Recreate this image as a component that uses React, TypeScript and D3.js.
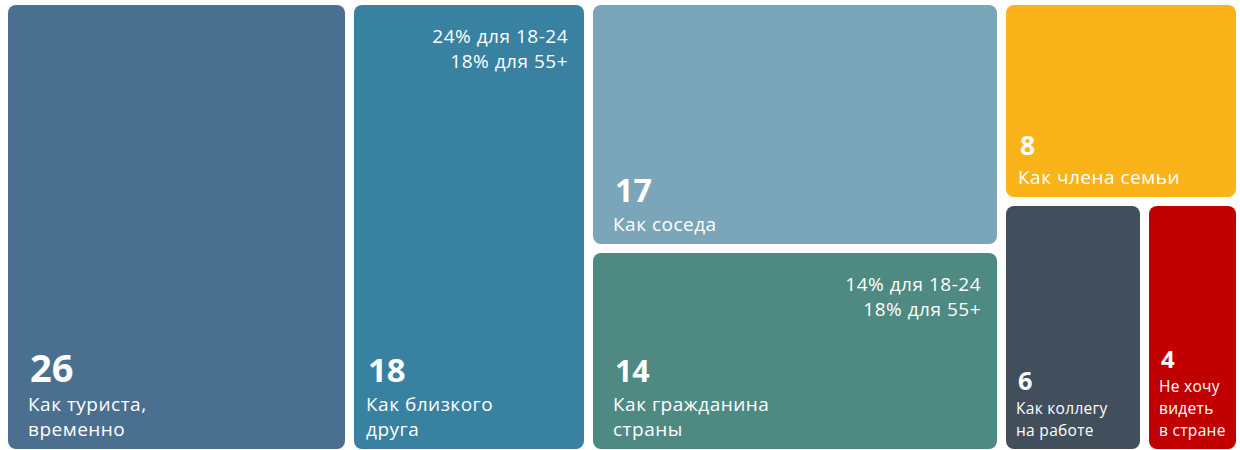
import React from "react";
import * as d3 from "d3";

const categories: string[][] = [
  ["Как туриста,", "временно"],
  ["Как близкого", "друга"],
  ["Как соседа"],
  ["Как гражданина", "страны"],
  ["Как члена семьи"],
  ["Как коллегу", "на работе"],
  ["Не хочу", "видеть", "в стране"],
];
const values: number[] = [26, 18, 17, 14, 8, 6, 4];
const notes: string[][] = [
  [],
  ["24% для 18-24", "18% для 55+"],
  [],
  ["14% для 18-24", "18% для 55+"],
  [],
  [],
  [],
];
const colors: string[] = ["#4a6f8f", "#3881a0", "#7ba5b9", "#4e8a82", "#fbb31a", "#414f5c", "#c00000"];
// grouping of tiles (indices into the arrays above): columns, then stacked rows
const grouping: any[] = [[0], [1], [2, 3], [4, [5, 6]]];

const W = 1240;
const H = 450;
const M = { left: 8, top: 5, right: 4, bottom: 1 };
const FONT = "'Open Sans', 'Noto Sans', sans-serif";

type Datum = { label: string[]; value: number; note: string[]; color: string };

function build(g: any): any {
  if (typeof g === "number") {
    return { label: categories[g], value: values[g], note: notes[g], color: colors[g] } as Datum;
  }
  return { children: g.map(build) };
}

export default function App() {
  const root = d3.hierarchy<any>(build(grouping)).sum((d: any) => (d.children ? 0 : d.value));

  d3
    .treemap<any>()
    .tile(d3.treemapSliceDice)
    .size([W - M.left - M.right, H - M.top - M.bottom])
    .paddingInner(9)
    .round(true)(root);

  const leaves = root.leaves() as d3.HierarchyRectangularNode<any>[];
  const numSize = d3.scaleLinear().domain([4, 26]).range([24, 38]);

  return (
    <svg
      width={W}
      height={H}
      style={{ position: "absolute", left: 0, top: 0, display: "block" }}
      fontFamily={FONT}
    >
      <g transform={`translate(${M.left},${M.top})`}>
        {leaves.map((n, i) => {
          const d = n.data as Datum;
          const w = n.x1 - n.x0;
          const small = w < 200;
          const pad = w > 300 ? 20 : small ? 10 : 12;
          const lf = small ? 15.5 : 19;
          const lh = small ? 22 : 25;
          const lastBase = n.y1 - 13;
          const firstBase = lastBase - (d.label.length - 1) * lh;
          const numBase = firstBase - (small ? 24 : 29);
          return (
            <g key={i}>
              <rect x={n.x0} y={n.y0} width={w} height={n.y1 - n.y0} rx={8} ry={8} fill={d.color} />
              <text
                x={n.x0 + pad + 2}
                y={numBase}
                fill="#fff"
                fontWeight={700}
                fontSize={numSize(d.value)}
              >
                {d.value}
              </text>
              {d.label.map((t, j) => (
                <text
                  key={j}
                  x={n.x0 + pad}
                  y={firstBase + j * lh}
                  fill="#fff"
                  fontSize={lf}
                  letterSpacing={small ? 0.3 : 0.5}
                >
                  {t}
                </text>
              ))}
              {d.note.map((t, j) => (
                <text
                  key={"n" + j}
                  x={n.x1 - 16}
                  y={n.y0 + 38 + j * 25}
                  fill="#fff"
                  fontSize={19}
                  letterSpacing={0.5}
                  textAnchor="end"
                >
                  {t}
                </text>
              ))}
            </g>
          );
        })}
      </g>
    </svg>
  );
}
